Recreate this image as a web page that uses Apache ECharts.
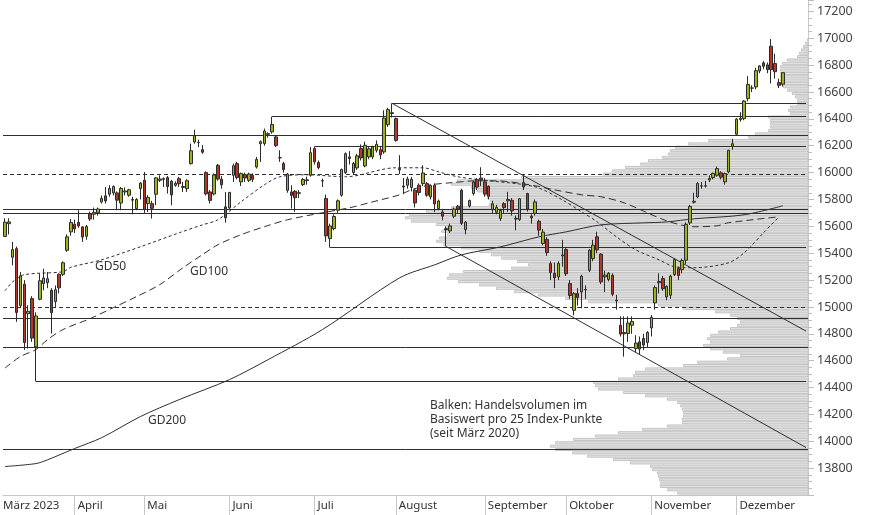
<!DOCTYPE html>
<html><head><meta charset="utf-8">
<script src="https://cdn.jsdelivr.net/npm/echarts@6/dist/echarts.min.js"></script>
<style>html,body{margin:0;padding:0;background:#fff}#c{width:874px;height:515px}</style>
</head><body><div id="c"></div>
<script>
// ---------- categories (trading days) ----------
const monthNames = ['März 2023','April','Mai','Juni','Juli','August','September','Oktober','November','Dezember'];
const monthNums = [3,4,5,6,7,8,9,10,11,12];
const monthDays = [
  [8,9,10,13,14,15,16,17,20,21,22,23,24,27,28,29,30,31],
  [3,4,5,6,11,12,13,14,17,18,19,20,21,24,25,26,27,28],
  [2,3,4,5,8,9,10,11,12,15,16,17,18,19,22,23,24,25,26,29,30,31],
  [1,2,5,6,7,8,9,12,13,14,15,16,19,20,21,22,23,26,27,28,29,30],
  [3,4,5,6,7,10,11,12,13,14,17,18,19,20,21,24,25,26,27,28,31],
  [1,2,3,4,7,8,9,10,11,14,15,16,17,18,21,22,23,24,25,28,29,30,31],
  [1,4,5,6,7,8,11,12,13,14,15,18,19,20,21,22,25,26,27,28,29],
  [2,3,4,5,6,9,10,11,12,13,16,17,18,19,20,23,24,25,26,27,30,31],
  [1,2,3,6,7,8,9,10,13,14,15,16,17,20,21,22,23,24,27,28,29,30],
  [1,4,5,6,7,8,11,12,13,14,15,18,19,20,21,22,27,28,29]
];

// ---------- candles (Mar 8 – Dec 19, 2023) ----------
const open = [15525,15620,15370,15434,15010,15170,14950,15062,14703,15057,15174,15180,15124,15040,15243,15243,15422,15559,
15616,15630,15596,15526,15695,15690,15700,15782,15827,15839,15849,15849,15774,15856,15832,15800,15732,15881,
15943,15769,15769,15839,15943,15950,15963,15936,15905,15955,15890,15881,16067,16228,16225,16171,16000,15856,15841,16055,15951,15745,
15737,15980,16067,15931,15985,15943,15980,16042,16215,16216,16285,16303,16266,16110,16067,15868,15856,15861,15850,15911,15941,15980,
16179,16075,15940,15807,15509,15583,15720,15832,16000,16117,16000,16035,16179,16050,16117,16117,16166,16171,16154,16357,16440,
16402,16030,15900,15906,15890,15869,15906,15918,15918,15819,15906,15732,15707,15583,15566,15675,15750,15869,15576,15752,15844,15948,15960,
15931,15898,15725,15705,15658,15769,15790,15794,15660,15650,15926,15844,15675,15695,15638,15472,15502,15323,15250,15224,15380,
15427,15174,14975,15100,15112,15130,15273,15360,15522,15393,15224,15204,15236,15050,14864,14810,14802,14864,14690,14740,14765,14735,
14844,15030,15180,15211,15075,15087,15241,15286,15278,15348,15626,15780,15819,15900,15902,15945,15963,15980,15998,15931,16005,16196,
16286,16395,16402,16551,16630,16638,16757,16817,16802,16941,16812,16670,16658];
const close = [15631,15633,15427,14959,15232,14735,14967,14768,14933,15195,15216,15210,14957,15128,15142,15329,15522,15629,
15581,15603,15520,15598,15655,15704,15729,15808,15789,15882,15896,15795,15882,15863,15872,15795,15800,15922,
15726,15815,15734,15961,15952,15955,15896,15834,15920,15917,15897,15940,16163,16275,16223,16152,15842,15793,15983,15952,15909,15664,
15853,16051,15963,15993,15960,15989,15950,16098,16230,16310,16290,16358,16201,16111,16023,15988,15830,15813,15846,15949,15946,16148,
16081,16038,15938,15529,15603,15673,15790,16023,16141,16105,16068,16125,16109,16204,16177,16191,16211,16131,16406,16469,16446,
16240,16020,15893,15952,15951,15774,15852,15997,15832,15904,15767,15789,15676,15575,15603,15729,15729,15622,15632,15792,15930,15892,15947,
15840,15824,15768,15741,15718,15740,15800,15715,15654,15805,15893,15727,15664,15782,15572,15557,15405,15256,15217,15323,15387,
15247,15085,15099,15070,15229,15128,15423,15460,15425,15187,15237,15251,15095,15045,14798,14800,14880,14892,14731,14687,14716,14810,
14923,15144,15189,15136,15153,15229,15353,15234,15346,15615,15748,15786,15919,15901,15900,15958,15995,16030,15966,15993,16166,16215,
16398,16405,16533,16656,16629,16759,16794,16792,16766,16766,16751,16650,16744];
const low = [15520,15540,15310,14889,14990,14680,14690,14740,14445,15050,15124,15140,14802,15000,15100,15230,15410,15530,
15550,15590,15484,15500,15640,15650,15680,15770,15770,15820,15830,15720,15720,15830,15820,15690,15720,15800,
15700,15707,15658,15757,15930,15893,15844,15757,15895,15893,15856,15856,16060,16215,16190,16140,15830,15770,15830,15940,15880,15628,
15730,15930,15950,15900,15930,15930,15930,16030,16080,16200,16260,16290,16190,16080,16000,15850,15732,15708,15810,15900,15910,15970,
16060,16025,15893,15484,15442,15570,15700,15820,15990,16060,15990,16020,16090,16040,16100,16100,16150,16100,16140,16340,16410,
16230,15990,15840,15880,15860,15740,15830,15900,15820,15800,15706,15720,15645,15450,15550,15660,15700,15610,15540,15740,15830,15870,15900,
15820,15800,15700,15690,15640,15700,15707,15680,15570,15640,15870,15710,15620,15680,15530,15460,15380,15200,15140,15200,15300,
15230,15060,14938,15010,14990,15060,15260,15340,15400,15170,15110,15190,15080,14980,14780,14630,14740,14800,14660,14650,14680,14700,
14780,14980,15100,15120,15050,15060,15230,15200,15250,15320,15610,15770,15810,15880,15888,15930,15950,15970,15950,15910,15995,16170,
16280,16380,16390,16530,16600,16620,16740,16770,16740,16663,16700,16630,16640];
const high = [15660,15660,15484,15450,15260,15200,15013,15080,14960,15248,15285,15260,15140,15160,15250,15340,15540,15655,
15650,15720,15600,15610,15710,15740,15740,15830,15893,15906,15905,15860,15893,15890,15880,15820,15810,15930,
16005,15832,15790,15965,15980,15965,15975,15945,15935,15968,15930,15950,16216,16320,16245,16205,16010,15870,15995,16065,15975,15856,
15856,16067,16080,16000,16000,16000,15995,16117,16240,16328,16300,16417,16280,16166,16080,15998,15906,15870,15870,15960,15970,16191,
16194,16090,15956,15836,15620,15690,15800,16030,16150,16160,16080,16140,16210,16230,16190,16200,16240,16190,16464,16482,16516,
16410,16130,15960,15970,15968,15880,15920,16055,15930,15910,15920,15800,15730,15600,15620,15740,15760,15880,15640,15800,15940,15960,16040,
15960,15905,15790,15760,15730,15780,15857,15810,15680,15810,15980,15850,15690,15800,15650,15580,15520,15340,15330,15340,15500,
15440,15200,15110,15140,15240,15160,15430,15500,15560,15400,15270,15260,15250,15090,14930,14930,14930,14930,14790,14780,14800,14820,
14940,15160,15250,15230,15160,15240,15360,15300,15360,15630,15760,15850,15930,15930,15938,15980,16000,16045,16010,16000,16170,16252,
16405,16450,16540,16718,16650,16780,16800,16830,16820,16995,16885,16700,16745];

// ---------- moving averages: [trading-day index, value] ----------
const gd50 = [[0,15120],[2,15187],[5,15240],[15,15262],[17,15295],[25,15351],[35,15448],[45,15552],[51,15611],[55,15649],[61,15783],[67,15909],[71,15969],[78,15984],[88,15969],[101,16036],[108,16036],[112,16006],[117,15969],[123,15946],[137,15894],[144,15797],[149,15708],[153,15634],[158,15522],[163,15425],[169,15351],[173,15299],[178,15292],[187,15329],[191,15403],[196,15552],[200,15671]];
const gd100 = [[0,14545],[4,14631],[8,14683],[11,14757],[15,14832],[22,14913],[28,14995],[34,15077],[40,15166],[46,15292],[51,15389],[55,15463],[61,15538],[67,15597],[73,15649],[82,15701],[89,15738],[94,15775],[102,15835],[105,15872],[110,15909],[115,15924],[122,15939],[127,15939],[137,15902],[142,15872],[149,15835],[154,15820],[160,15775],[171,15641],[178,15597],[184,15604],[187,15627],[200,15671]];
const gd200 = [[0,13812],[8,13834],[11,13862],[18,13946],[25,14027],[35,14184],[45,14310],[58,14459],[68,14608],[82,14831],[102,15217],[111,15313],[118,15388],[128,15447],[138,15522],[145,15559],[154,15611],[165,15626],[171,15633],[178,15656],[191,15686],[201,15753]];

// ---------- horizontal levels and trend lines ----------
const solidLevels = [16276, 15725, 15695, 14916, 14700, 13940];
const dashedLevels = [15990, 15000];
const anchoredLevels = [[100,16516],[69,16417],[80,16194],[84,15442],[8,14445]]; // [start index, level]
const trendUpper = [[100,16516],[207,14820]];
const trendLower = [[114,15450],[207,13953]];

// ---------- volume profile (relative volume per 25 index points, from 13600 upward) ----------
const profileStart = 13600, profileStep = 25;
const profileVolume = [131,141,148,148,149,150,151,156,158,178,195,221,236,253,258,253,235,213,190,166,
141,126,126,125,125,126,128,131,141,163,185,210,213,215,190,175,173,163,125,111,
81,68,85,98,105,98,101,98,90,78,71,68,71,78,93,125,150,220,243,271,
295,313,330,351,362,360,346,298,281,292,308,318,330,348,366,373,370,362,368,363,
373,398,404,400,383,358,320,319,322,325,332,338,358,352,288,205,196,183,168,160,
146,140,138,133,120,100,60,53,40,38,38,38,40,18,20,18,11,11,13,16,
21,25,28,28,28,28,28,28,26,21,11,9,7,5,3,1];

// ---------- axis labels ----------
const yTickLabels = [13800,14000,14200,14400,14600,14800,15000,15200,15400,15600,15800,16000,16200,16400,16600,16800,17000,17200];

// ================= build =================
const categories = [];
const monthStart = {};
monthDays.forEach((days, m) => {
  days.forEach((d, j) => {
    if (j === 0) monthStart[categories.length] = m;
    categories.push('2023-' + String(monthNums[m]).padStart(2,'0') + '-' + String(d).padStart(2,'0'));
  });
});
const lastIdx = categories.length - 1;
const ohlc = open.map((o, i) => [o, close[i], low[i], high[i]]);
const toCat = arr => arr.map(p => [categories[p[0]], p[1]]);
const FONT = '"Noto Sans", "Open Sans", sans-serif';
const INK = '#2e2e2e';

const series = [];
series.push({
  type: 'custom', name: 'profile', xAxisIndex: 1, yAxisIndex: 0, z: 1, silent: true,
  data: profileVolume.map((v, k) => [profileStart + k * profileStep, v]),
  encode: { x: 1, y: 0 },
  renderItem: function (params, api) {
    const lo = api.value(0), vol = api.value(1);
    const a = api.coord([vol, lo + profileStep]);
    const b = api.coord([0, lo]);
    return { type: 'rect',
      shape: { x: Math.round(a[0]) + 0.5, y: a[1] + 0.5, width: b[0] - Math.round(a[0]) - 0.5, height: Math.max(b[1] - a[1] - 1.3, 1) },
      style: { fill: '#e4e4e4', stroke: '#c3c3c3', lineWidth: 1 } };
  }
});
// level lines
series.push({
  type: 'line', name: 'levels', xAxisIndex: 0, yAxisIndex: 0, data: [], z: 3, silent: true,
  markLine: {
    symbol: ['none','none'], silent: true, animation: false, label: { show: false },
    data: solidLevels.map(v => ({ yAxis: v, lineStyle: { color: INK, width: 1, type: 'solid' } }))
      .concat(dashedLevels.map(v => ({ yAxis: v, lineStyle: { color: INK, width: 1, type: [4,3] } })))
      .concat(anchoredLevels.map(p => [{ coord: [categories[p[0]], p[1]], lineStyle: { color: INK, width: 1, type: 'solid' } }, { coord: [categories[lastIdx], p[1]] }]))
  }
});
[trendUpper, trendLower].forEach(t => series.push({
  type: 'line', data: toCat(t), symbol: 'none', z: 3, silent: true,
  lineStyle: { color: INK, width: 1 }
}));
series.push({ type: 'line', name: 'GD200', data: toCat(gd200), symbol: 'none', smooth: 0.3, z: 4, silent: true,
  lineStyle: { color: INK, width: 1 } });
series.push({ type: 'line', name: 'GD100', data: toCat(gd100), symbol: 'none', smooth: 0.3, z: 4, silent: true,
  lineStyle: { color: INK, width: 1, type: [7,4] } });
series.push({ type: 'line', name: 'GD50', data: toCat(gd50), symbol: 'none', smooth: 0.3, z: 4, silent: true,
  lineStyle: { color: INK, width: 1, type: [3,2.5] } });
series.push({
  type: 'candlestick', name: 'DAX', data: ohlc, z: 10, barWidth: 3,
  itemStyle: { color: '#9db21e', color0: '#b5372b', borderColor: '#2b2b2b', borderColor0: '#2b2b2b', borderWidth: 1 }
});

const option = {
  animation: false,
  backgroundColor: '#ffffff',
  grid: { left: 1.5, right: 66, top: 0, bottom: 20, containLabel: false },
  xAxis: [
    { type: 'category', data: categories, boundaryGap: true,
      axisLine: { show: true, lineStyle: { color: '#c8c8c8' } },
      axisTick: { show: true, interval: i => monthStart[i] !== undefined && i > 0, length: 20, alignWithLabel: true, lineStyle: { color: '#c8c8c8' } },
      axisLabel: { interval: i => monthStart[i] !== undefined, align: 'left', margin: 5, color: '#333', fontSize: 12, fontFamily: FONT,
        formatter: (v, i) => monthStart[i] === 0 ? '{f|' + monthNames[0] + '}' : '{m|' + monthNames[monthStart[i]] + '}',
        rich: { f: { padding: [0,0,0,-2], fontSize: 11.5, fontFamily: FONT, color: '#333' }, m: { padding: [0,0,0,3], fontSize: 11.5, fontFamily: FONT, color: '#333' } } },
      splitLine: { show: false } },
    { type: 'value', inverse: true, min: 0, max: 806.5, show: false, position: 'top', gridIndex: 0 }
  ],
  yAxis: [{
    type: 'value', position: 'right', min: 13600, max: 17285, interval: 200, scale: false,
    axisLine: { show: true, lineStyle: { color: '#c8c8c8' } },
    axisTick: { show: true, length: 6, lineStyle: { color: '#bdbdbd' } },
    minorTick: { show: true, splitNumber: 4, length: 4, lineStyle: { color: '#bdbdbd' } },
    splitLine: { show: false },
    axisLabel: { show: true, margin: 9, color: '#444', fontSize: 12.5, fontFamily: FONT, showMinLabel: false, showMaxLabel: false,
      formatter: v => yTickLabels.indexOf(v) >= 0 ? String(v) : '' }
  }],
  graphic: [
    { type: 'text', left: 95, top: 261, z: 20, style: { text: 'GD50', font: '12px ' + FONT, fill: '#333' } },
    { type: 'text', left: 190, top: 266, z: 20, style: { text: 'GD100', font: '12px ' + FONT, fill: '#333' } },
    { type: 'text', left: 148, top: 415, z: 20, style: { text: 'GD200', font: '12px ' + FONT, fill: '#333' } },
    { type: 'text', left: 430, top: 399, z: 20, style: { text: 'Balken: Handelsvolumen im\nBasiswert pro 25 Index-Punkte\n(seit März 2020)', font: '12px ' + FONT, fill: '#333', lineHeight: 14 } }
  ],
  series: series
};
const chart = echarts.init(document.getElementById('c'), null, { renderer: 'canvas' });
chart.setOption(option);
</script>
</body></html>
